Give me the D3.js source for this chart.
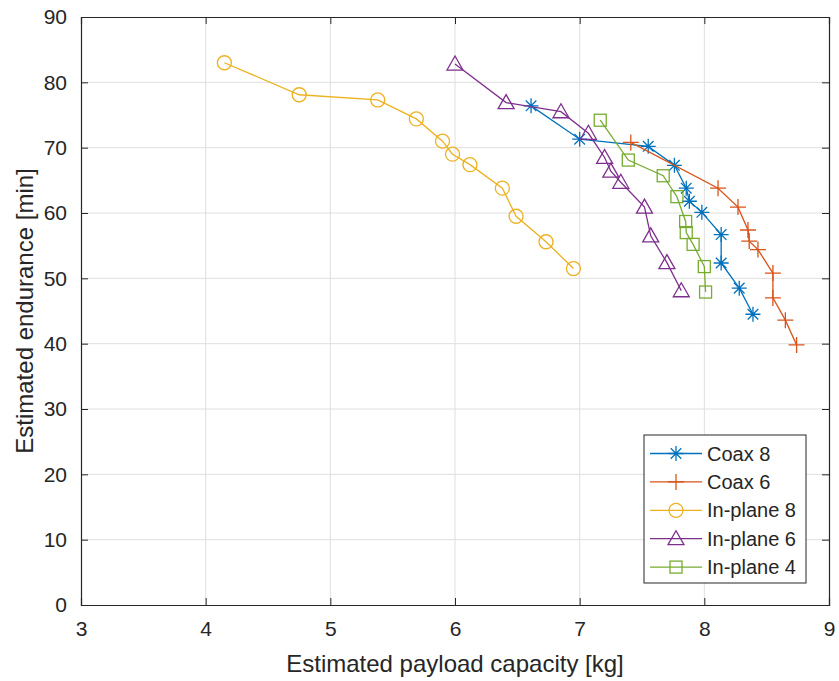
<!DOCTYPE html>
<html>
<head>
<meta charset="utf-8">
<script src="https://cdn.jsdelivr.net/npm/d3@7"></script>
<style>
  body { margin: 0; background: #fff; }
  text { font-family: "Liberation Sans", Arial, Helvetica, sans-serif; fill: #262626; }
</style>
</head>
<body>
<div id="chart"></div>
<script>
// payload capacity [kg] vs endurance [min] for each configuration
const coax8X = [6.61, 7.00, 7.55, 7.76, 7.855, 7.88, 7.98, 8.135, 8.135, 8.28, 8.39];
const coax8Y = [76.4, 71.3, 70.2, 67.3, 63.8, 61.8, 60.1, 56.7, 52.35, 48.5, 44.5];

const coax6X = [7.41, 8.11, 8.27, 8.35, 8.36, 8.43, 8.55, 8.55, 8.65, 8.74];
const coax6Y = [70.8, 63.8, 60.9, 57.4, 55.7, 54.4, 50.8, 47.0, 43.6, 39.8];

const inplane8X = [4.15, 4.75, 5.38, 5.69, 5.90, 5.98, 6.12, 6.38, 6.49, 6.73, 6.95];
const inplane8Y = [83.0, 78.1, 77.3, 74.4, 71.0, 69.0, 67.4, 63.8, 59.5, 55.6, 51.5];

const inplane6X = [6.00, 6.41, 6.85, 7.07, 7.20, 7.25, 7.33, 7.52, 7.57, 7.70, 7.815];
const inplane6Y = [82.8, 76.9, 75.5, 72.2, 68.5, 66.4, 64.7, 60.9, 56.5, 52.4, 48.1];

const inplane4X = [7.165, 7.39, 7.67, 7.78, 7.85, 7.855, 7.91, 8.00, 8.01];
const inplane4Y = [74.2, 68.1, 65.7, 62.5, 58.7, 57.0, 55.2, 51.8, 47.9];

const seriesNames = ["Coax 8", "Coax 6", "In-plane 8", "In-plane 6", "In-plane 4"];
const xTicks = [3, 4, 5, 6, 7, 8, 9];
const yTicks = [0, 10, 20, 30, 40, 50, 60, 70, 80, 90];

const colors = ["#0072BD", "#D95319", "#EDB120", "#7E2F8E", "#77AC30"];
const markers = ["asterisk", "plus", "circle", "triangle", "square"];

const series = [
  [coax8X, coax8Y], [coax6X, coax6Y], [inplane8X, inplane8Y],
  [inplane6X, inplane6Y], [inplane4X, inplane4Y]
].map(([xs, ys], i) => ({
  name: seriesNames[i],
  color: colors[i],
  marker: markers[i],
  points: xs.map((x, j) => ({ x: x, y: ys[j] }))
}));

const width = 839, height = 681;
const margin = { top: 17, right: 10, bottom: 76, left: 81 };
const innerW = width - margin.left - margin.right;
const innerH = height - margin.top - margin.bottom;

const svg = d3.select("#chart").append("svg")
  .attr("width", width)
  .attr("height", height);

const g = svg.append("g")
  .attr("transform", `translate(${margin.left},${margin.top})`);

const x = d3.scaleLinear().domain([3, 9]).range([0, innerW]);
const y = d3.scaleLinear().domain([0, 90]).range([innerH, 0]);

// grid
g.append("g").selectAll("line")
  .data(xTicks.slice(1, -1))
  .enter().append("line")
  .attr("x1", d => x(d)).attr("x2", d => x(d))
  .attr("y1", 0).attr("y2", innerH)
  .style("stroke", "#dfdfdf").style("stroke-width", 1);

g.append("g").selectAll("line")
  .data(yTicks.slice(1, -1))
  .enter().append("line")
  .attr("x1", 0).attr("x2", innerW)
  .attr("y1", d => y(d)).attr("y2", d => y(d))
  .style("stroke", "#dfdfdf").style("stroke-width", 1);

// axes with inward ticks
const tickLen = 7;
const xAxis = g.append("g")
  .attr("transform", `translate(0,${innerH})`)
  .call(d3.axisBottom(x).tickValues(xTicks).tickFormat(d3.format("d"))
    .tickSize(-tickLen).tickPadding(tickLen + 9));
const xAxisTop = g.append("g")
  .call(d3.axisTop(x).tickValues(xTicks).tickSize(-tickLen).tickFormat(""));
const yAxis = g.append("g")
  .call(d3.axisLeft(y).tickValues(yTicks).tickFormat(d3.format("d"))
    .tickSize(-tickLen).tickPadding(tickLen + 7));
const yAxisRight = g.append("g")
  .attr("transform", `translate(${innerW},0)`)
  .call(d3.axisRight(y).tickValues(yTicks).tickSize(-tickLen).tickFormat(""));

[xAxis, xAxisTop, yAxis, yAxisRight].forEach(a => {
  a.select(".domain").style("stroke", "#262626").style("stroke-width", 1.2);
  a.selectAll(".tick line").style("stroke", "#262626");
  a.selectAll(".tick text").style("font-size", "21px").style("fill", "#262626");
});

// axis labels
svg.append("text")
  .attr("x", margin.left + innerW / 2)
  .attr("y", 672)
  .attr("text-anchor", "middle")
  .style("font-size", "24px")
  .text("Estimated payload capacity [kg]");

svg.append("text")
  .attr("transform", `translate(33,${margin.top + innerH / 2}) rotate(-90)`)
  .attr("text-anchor", "middle")
  .style("font-size", "24px")
  .text("Estimated endurance [min]");

// marker drawing
function drawMarker(sel, type, color) {
  const s = 7;
  if (type === "circle") {
    sel.append("circle").attr("r", s)
      .style("fill", "none").style("stroke", color).style("stroke-width", 1.3);
  } else if (type === "square") {
    sel.append("rect").attr("x", -6).attr("y", -6).attr("width", 12).attr("height", 12)
      .style("fill", "none").style("stroke", color).style("stroke-width", 1.3);
  } else if (type === "triangle") {
    sel.append("path").attr("d", "M0,-8L8,6L-8,6Z")
      .style("fill", "none").style("stroke", color).style("stroke-width", 1.3);
  } else if (type === "plus") {
    sel.append("path").attr("d", "M-8,0H8M0,-8V8")
      .style("stroke", color).style("stroke-width", 1.3);
  } else if (type === "asterisk") {
    const d = 5.3;
    sel.append("path")
      .attr("d", `M-7.5,0H7.5M0,-7.5V7.5M${-d},${-d}L${d},${d}M${-d},${d}L${d},${-d}`)
      .style("stroke", color).style("stroke-width", 1.3);
  }
}

const line = d3.line().x(d => x(d.x)).y(d => y(d.y));

series.forEach(s => {
  g.append("path")
    .datum(s.points)
    .attr("d", line)
    .style("fill", "none")
    .style("stroke", s.color)
    .style("stroke-width", 1.3);

  g.append("g").selectAll("g")
    .data(s.points)
    .enter().append("g")
    .attr("transform", d => `translate(${x(d.x)},${y(d.y)})`)
    .each(function () { drawMarker(d3.select(this), s.marker, s.color); });
});

// legend
const legend = svg.append("g").attr("transform", "translate(644,435)");
legend.append("rect")
  .attr("width", 162).attr("height", 148)
  .style("fill", "#fff").style("stroke", "#262626").style("stroke-width", 1);

const rows = legend.selectAll(".row")
  .data(series)
  .enter().append("g")
  .attr("class", "row")
  .attr("transform", (d, i) => `translate(0,${18.5 + i * 28.4})`);

rows.append("line")
  .attr("x1", 6).attr("x2", 58)
  .style("stroke", d => d.color).style("stroke-width", 1.3);

rows.append("g")
  .attr("transform", "translate(32,0)")
  .each(function (d) { drawMarker(d3.select(this), d.marker, d.color); });

rows.append("text")
  .attr("x", 63).attr("y", 7)
  .style("font-size", "20px")
  .text(d => d.name);
</script>
</body>
</html>
